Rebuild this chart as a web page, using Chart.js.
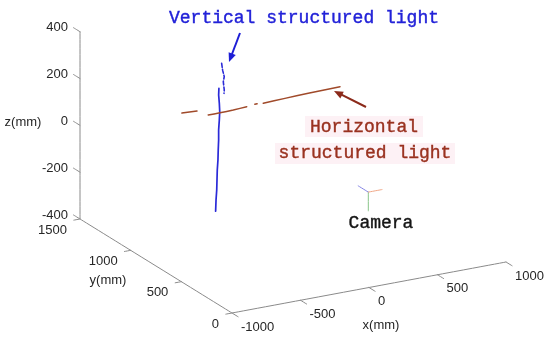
<!DOCTYPE html>
<html><head><meta charset="utf-8">
<script src="https://cdn.jsdelivr.net/npm/chart.js@4"></script>
<style>html,body{margin:0;padding:0;background:#fff}#wrap{width:550px;height:341px}</style>
</head><body><div id="wrap"><canvas id="c" width="550" height="341"></canvas></div>
<script>
// ---- axis ticks (mm) ----
const xTicks = [-1000, -500, 0, 500, 1000];
const yTicks = [0, 500, 1000, 1500];
const zTicks = [-400, -200, 0, 200, 400];
const xTitle = 'x(mm)', yTitle = 'y(mm)', zTitle = 'z(mm)';

// ---- vertical structured light (blue), depth y (mm) ----
const vertY = 1300;
const vertTopX = [-114, -107, -95, -102, -95, -97];
const vertTopZ = [222, 192, 163, 142, 106, 92];
const vertX = [-134, -136, -131, -128, -131, -136, -136, -139, -141, -146, -148, -150, -155, -158];
const vertZ = [117, 89, 53, 17, -18, -60, -103, -146, -188, -230, -273, -315, -357, -405];

// ---- horizontal structured light (red), null = gap ----
const horzY = 1300;
const horzX = [-404, -294, null, -212, -126, -29, 69, null, 128, 145, null, 190, 348, 518, 750];
const horzZ = [41, 38, null, 12, 12, 13, 17, null, 21, 21, null, 18, 22, 25, 28];

// ---- camera pose (mm) and its axis lengths ----
const cameraPos = [-5, 0, 8];
const camAxisLen = [100, 100, 80];

// ---- annotation texts ----
const txtVertical = 'Vertical structured light';
const txtHorizontal = ['Horizontal', 'structured light'];
const txtCamera = 'Camera';

// view projection (mm -> screen units)
function proj(x, y, z) {
  return { x: 232 + 0.137 * (x + 1000) - 0.10133 * y,
           y: 313 - 0.0255 * (x + 1000) - 0.06267 * y - 0.2341 * (z + 400) };
}
function line3(pts) {
  return pts.map(p => p === null ? { x: 0, y: null } : proj(p[0], p[1], p[2]));
}

const X0 = xTicks[0], X1 = xTicks[xTicks.length - 1];
const Y0 = yTicks[0], Y1 = yTicks[yTicks.length - 1];
const Z0 = zTicks[0], Z1 = zTicks[zTicks.length - 1];

const axisPts = line3([[X0, Y1, Z1], [X0, Y1, Z0], [X0, Y0, Z0], [X1, Y0, Z0]]);
const tickSeg = [];
zTicks.forEach(z => { tickSeg.push([X0, Y1, z], [X0, Y1 + 65, z], null); });
yTicks.forEach(y => { tickSeg.push([X0, y, Z0], [X0 - 45, y, Z0], null); });
xTicks.forEach(x => { tickSeg.push([x, Y0, Z0], [x, Y0 - 60, Z0], null); });

const vertTop = line3(vertTopX.map((x, i) => [x, vertY, vertTopZ[i]]));
const vertMain = line3(vertX.map((x, i) => [x, vertY, vertZ[i]]));
const horz = line3(horzX.map((x, i) => x === null ? null : [x, horzY, horzZ[i]]));
const [cx, cy, cz] = cameraPos;
const camX = line3([[cx, cy, cz], [cx + camAxisLen[0], cy, cz]]);
const camY = line3([[cx, cy, cz], [cx, cy + camAxisLen[1], cz]]);
const camZ = line3([[cx, cy, cz], [cx, cy, cz - camAxisLen[2]]]);

function ds(data, color, width, dash) {
  return { data, borderColor: color, backgroundColor: color, borderWidth: width,
           showLine: true, pointRadius: 0, spanGaps: false, tension: 0.0001,
           borderDash: dash || [], borderCapStyle: 'round', borderJoinStyle: 'round' };
}

const labelsPlugin = {
  id: 'labels3d',
  beforeDatasetsDraw(chart) {
    const ctx = chart.ctx;
    ctx.save();
    ctx.fillStyle = '#fdf1f5';
    ctx.fillRect(305, 116, 118, 21);
    ctx.fillRect(275, 143, 180, 21);
    ctx.restore();
  },
  afterDatasetsDraw(chart) {
    const ctx = chart.ctx, sx = chart.scales.x, sy = chart.scales.y;
    const P = (x, y, z) => { const p = proj(x, y, z); return [sx.getPixelForValue(p.x), sy.getPixelForValue(p.y)]; };
    ctx.save();
    ctx.fillStyle = '#262626';
    ctx.font = '13px "Liberation Sans", Arial, sans-serif';
    ctx.textBaseline = 'middle';
    ctx.textAlign = 'right';
    zTicks.forEach(z => { const [px, py] = P(X0, Y1, z); ctx.fillText(String(z), px - 12, py - 4); });
    yTicks.forEach(y => { const [px, py] = P(X0, y, Z0); ctx.fillText(String(y), px - 13, py + 11); });
    ctx.textAlign = 'left';
    xTicks.forEach(x => { const [px, py] = P(x, Y0, Z0); ctx.fillText(String(x), px + 9, py + 14); });
    ctx.textAlign = 'center';
    { const [px, py] = P(0, Y0, Z0); ctx.fillText(xTitle, px + 12, py + 38); }
    { const [px, py] = P(X0, 750, Z0); ctx.fillText(yTitle, px - 48, py + 14); }
    { const [px, py] = P(X0, Y1, 0); ctx.fillText(zTitle, px - 57, py - 3); }

    // annotations
    ctx.font = '18px "Liberation Mono", "Courier New", monospace';
    ctx.lineWidth = 0.4;
    function txt(s, x, y, c) { ctx.fillStyle = c; ctx.strokeStyle = c; ctx.fillText(s, x, y); ctx.strokeText(s, x, y); }
    txt(txtVertical, 304, 18, '#2222d8');
    txt(txtHorizontal[0], 364, 127, '#9a3220');
    txt(txtHorizontal[1], 365, 153, '#9a3220');
    txt(txtCamera, 381, 223, '#151515');

    function arrow(x0, y0, x1, y1, color) {
      const a = Math.atan2(y1 - y0, x1 - x0), L = 9, W = 3.8;
      ctx.strokeStyle = color; ctx.fillStyle = color; ctx.lineWidth = 2;
      ctx.beginPath(); ctx.moveTo(x0, y0);
      ctx.lineTo(x1 - L * 0.8 * Math.cos(a), y1 - L * 0.8 * Math.sin(a)); ctx.stroke();
      ctx.beginPath(); ctx.moveTo(x1, y1);
      ctx.lineTo(x1 - L * Math.cos(a) + W * Math.sin(a), y1 - L * Math.sin(a) - W * Math.cos(a));
      ctx.lineTo(x1 - L * Math.cos(a) - W * Math.sin(a), y1 - L * Math.sin(a) + W * Math.cos(a));
      ctx.closePath(); ctx.fill();
    }
    arrow(240, 33, 229, 62, '#1e1ed6');
    arrow(366, 107, 334, 91, '#8b2a1a');
    ctx.restore();
  }
};

new Chart(document.getElementById('c'), {
  type: 'scatter',
  data: { datasets: [
    ds(axisPts, '#8a8a8a', 1),
    ds(line3(tickSeg), '#8a8a8a', 1),
    ds(horz, '#a04a2a', 1.5),
    ds(vertMain, '#2a2ad8', 1.7),
    ds(vertTop, '#2a2ad8', 1.6, [4, 2]),
    ds(camX, '#f0a888', 1),
    ds(camY, '#8484e4', 1),
    ds(camZ, '#88c488', 1)
  ] },
  options: {
    responsive: false, animation: false,
    layout: { padding: 0 },
    plugins: { legend: { display: false }, tooltip: { enabled: false } },
    scales: {
      x: { type: 'linear', min: 0, max: 550, display: false },
      y: { type: 'linear', min: 0, max: 341, reverse: true, display: false }
    }
  },
  plugins: [labelsPlugin]
});
</script></body></html>
